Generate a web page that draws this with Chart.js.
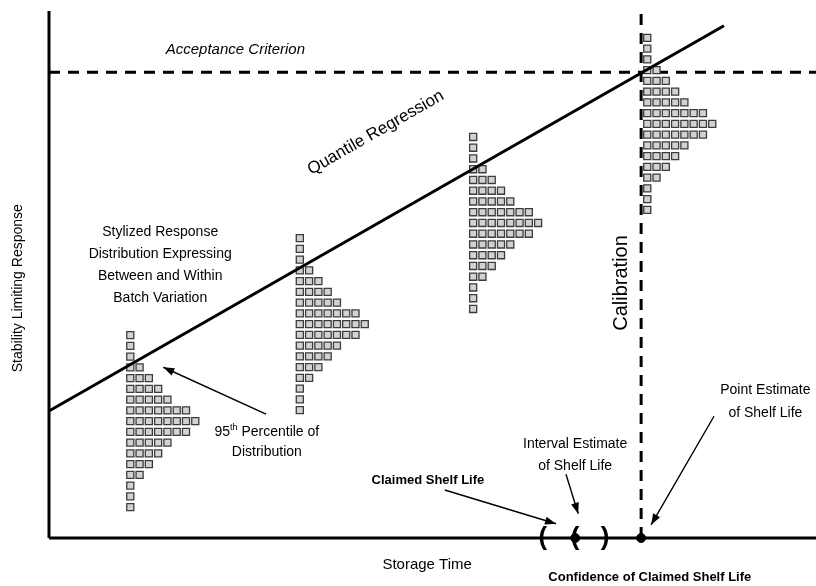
<!DOCTYPE html>
<html>
<head>
<meta charset="utf-8">
<script src="https://cdn.jsdelivr.net/npm/chart.js@4.4.1/dist/chart.umd.min.js"></script>
<style>
  body { margin: 0; background: #fff; }
  #wrap { width: 816px; height: 586px; position: relative; }
</style>
</head>
<body>
<div id="wrap"><canvas id="shelfChart"></canvas></div>
<script>
// Schematic units: storage time (x) and response (y) both run 0..100
const rowCounts = [1, 1, 1, 2, 3, 4, 5, 7, 8, 7, 5, 4, 3, 2, 1, 1, 1];
const distTimes = [10.6, 32.7, 55.3, 78.0];   // left column of each histogram
const distTops = [38.5, 56.9, 76.1, 94.9];    // top row of each histogram
const binWidth = 1.21;
const binHeight = 2.04;

const regressionTime = [0, 88];
const regressionResp = [24.1, 97.2];
const acceptanceLimit = 88.4;
const calibrationTime = 77.2;
const claimedInterval = [64.4, 68.6, 72.5]; // lower, claimed, upper

// arrows: [tailX, tailY, headX, headY]
const arrows = [
    [28.3, 23.5, 14.9, 32.4],  // 95th percentile
    [51.6, 9.1, 66.1, 2.7],    // claimed shelf life
    [67.4, 12.1, 69.0, 4.6],   // interval estimate
    [86.7, 23.1, 78.5, 2.5]    // point estimate
];

const FONT = '"Liberation Sans", Arial, sans-serif';
const notes = [
    { text: 'Acceptance Criterion', x: 24.3, y: 92.6, font: 'italic 15px ' + FONT },
    { text: 'Stylized Response', x: 14.5, y: 58.1, font: '14px ' + FONT },
    { text: 'Distribution Expressing', x: 14.5, y: 53.9, font: '14px ' + FONT },
    { text: 'Between and Within', x: 14.5, y: 49.7, font: '14px ' + FONT },
    { text: 'Batch Variation', x: 14.5, y: 45.5, font: '14px ' + FONT },
    { text: 'Distribution', x: 28.4, y: 16.3, font: '14px ' + FONT },
    { text: 'Claimed Shelf Life', x: 49.4, y: 11.0, font: 'bold 13px ' + FONT },
    { text: 'Interval Estimate', x: 68.6, y: 17.8, font: '14px ' + FONT },
    { text: 'of Shelf Life', x: 68.6, y: 13.7, font: '14px ' + FONT },
    { text: 'Point Estimate', x: 93.4, y: 28.1, font: '14px ' + FONT },
    { text: 'of Shelf Life', x: 93.4, y: 23.7, font: '14px ' + FONT },
    { text: 'Storage Time', x: 49.3, y: -5.1, font: '15px ' + FONT },
    { text: 'Confidence of Claimed Shelf Life', x: 65.1, y: -7.4, font: 'bold 13px ' + FONT, align: 'left' },
    { text: 'Calibration', x: 74.7, y: 48.4, font: '20px ' + FONT, rotate: -Math.PI / 2 },
    { text: 'Stability Limiting Response', x: -4.0, y: 47.4, font: '14px ' + FONT, rotate: -Math.PI / 2 }
];

// squares of the stylised distributions
const squares = [];
distTimes.forEach((t, d) => {
    rowCounts.forEach((n, r) => {
        for (let c = 0; c < n; c++) {
            squares.push({ x: t + c * binWidth, y: distTops[d] - r * binHeight });
        }
    });
});

const lineSet = (data, extra) => Object.assign({
    data: data,
    showLine: true,
    borderColor: '#000',
    borderWidth: 3,
    pointRadius: 0,
    clip: false
}, extra);

const datasets = [
    lineSet([{ x: regressionTime[0], y: regressionResp[0] }, { x: regressionTime[1], y: regressionResp[1] }]),
    {
        data: squares,
        pointStyle: 'rect',
        pointRadius: 5,
        borderWidth: 1.3,
        borderColor: '#3c3c3c',
        backgroundColor: '#d2d2d2',
        clip: false
    },
    {
        data: [{ x: calibrationTime, y: 0 }, { x: claimedInterval[1], y: 0 }],
        pointRadius: 4.5,
        backgroundColor: '#000',
        borderColor: '#000',
        clip: false
    },
    lineSet([{ x: 0, y: acceptanceLimit }, { x: 100, y: acceptanceLimit }], { borderDash: [11, 8] }),
    lineSet([{ x: calibrationTime, y: 0 }, { x: calibrationTime, y: 100 }], { borderDash: [11, 8] }),
    lineSet([{ x: 0, y: 0 }, { x: 0, y: 100 }]),
    lineSet([{ x: 0, y: 0 }, { x: 100, y: 0 }])
];
arrows.forEach(a => {
    datasets.push(lineSet([{ x: a[0], y: a[1] }, { x: a[2], y: a[3] }], { borderWidth: 1.4, arrow: true }));
});

const schematicPlugin = {
    id: 'schematic',
    afterDatasetsDraw(chart) {
        const { ctx, scales: { x, y } } = chart;
        ctx.save();
        ctx.fillStyle = '#000';
        ctx.textBaseline = 'middle';

        // arrow heads
        chart.data.datasets.forEach((ds, i) => {
            if (!ds.arrow) return;
            const pts = chart.getDatasetMeta(i).data;
            const a = pts[0], b = pts[1];
            const ang = Math.atan2(b.y - a.y, b.x - a.x);
            const L = 11, W = 4;
            ctx.beginPath();
            ctx.moveTo(b.x, b.y);
            ctx.lineTo(b.x - L * Math.cos(ang) + W * Math.sin(ang), b.y - L * Math.sin(ang) - W * Math.cos(ang));
            ctx.lineTo(b.x - L * Math.cos(ang) - W * Math.sin(ang), b.y - L * Math.sin(ang) + W * Math.cos(ang));
            ctx.closePath();
            ctx.fill();
        });

        // plain labels
        notes.forEach(n => {
            ctx.save();
            ctx.font = n.font;
            ctx.textAlign = n.align || 'center';
            ctx.translate(x.getPixelForValue(n.x), y.getPixelForValue(n.y));
            if (n.rotate) ctx.rotate(n.rotate);
            ctx.fillText(n.text, 0, 0);
            ctx.restore();
        });

        // "95th Percentile of" with superscript
        {
            const big = '14px ' + FONT, small = '9px ' + FONT;
            ctx.font = big;
            const w1 = ctx.measureText('95').width;
            const w3 = ctx.measureText(' Percentile of').width;
            ctx.font = small;
            const w2 = ctx.measureText('th').width;
            let px = x.getPixelForValue(28.4) - (w1 + w2 + w3) / 2;
            const py = y.getPixelForValue(20.1);
            ctx.textAlign = 'left';
            ctx.font = big; ctx.fillText('95', px, py); px += w1;
            ctx.font = small; ctx.fillText('th', px, py - 5); px += w2;
            ctx.font = big; ctx.fillText(' Percentile of', px, py);
        }

        // rotated regression label
        {
            const x0 = x.getPixelForValue(regressionTime[0]), y0 = y.getPixelForValue(regressionResp[0]);
            const x1 = x.getPixelForValue(regressionTime[1]), y1 = y.getPixelForValue(regressionResp[1]);
            ctx.save();
            ctx.font = '17px ' + FONT;
            ctx.textAlign = 'center';
            ctx.translate(x.getPixelForValue(42.6), y.getPixelForValue(76.9));
            ctx.rotate(Math.atan2(y1 - y0, x1 - x0));
            ctx.fillText('Quantile Regression', 0, 0);
            ctx.restore();
        }

        // confidence brackets on the time axis
        ctx.font = 'bold 26px ' + FONT;
        ctx.textAlign = 'center';
        const by = y.getPixelForValue(0);
        ctx.fillText('(', x.getPixelForValue(claimedInterval[0]), by);
        ctx.fillText('(', x.getPixelForValue(claimedInterval[1]), by);
        ctx.fillText(')', x.getPixelForValue(claimedInterval[2]), by);
        ctx.restore();
    }
};

new Chart(document.getElementById('shelfChart'), {
    type: 'scatter',
    data: { datasets: datasets },
    options: {
        responsive: true,
        maintainAspectRatio: false,
        animation: false,
        layout: { autoPadding: false, padding: { left: 49, right: 0, top: 11, bottom: 48 } },
        plugins: { legend: { display: false }, tooltip: { enabled: false } },
        scales: {
            x: { type: 'linear', min: 0, max: 100, display: false },
            y: { type: 'linear', min: 0, max: 100, display: false }
        }
    },
    plugins: [schematicPlugin]
});
</script>
</body>
</html>
